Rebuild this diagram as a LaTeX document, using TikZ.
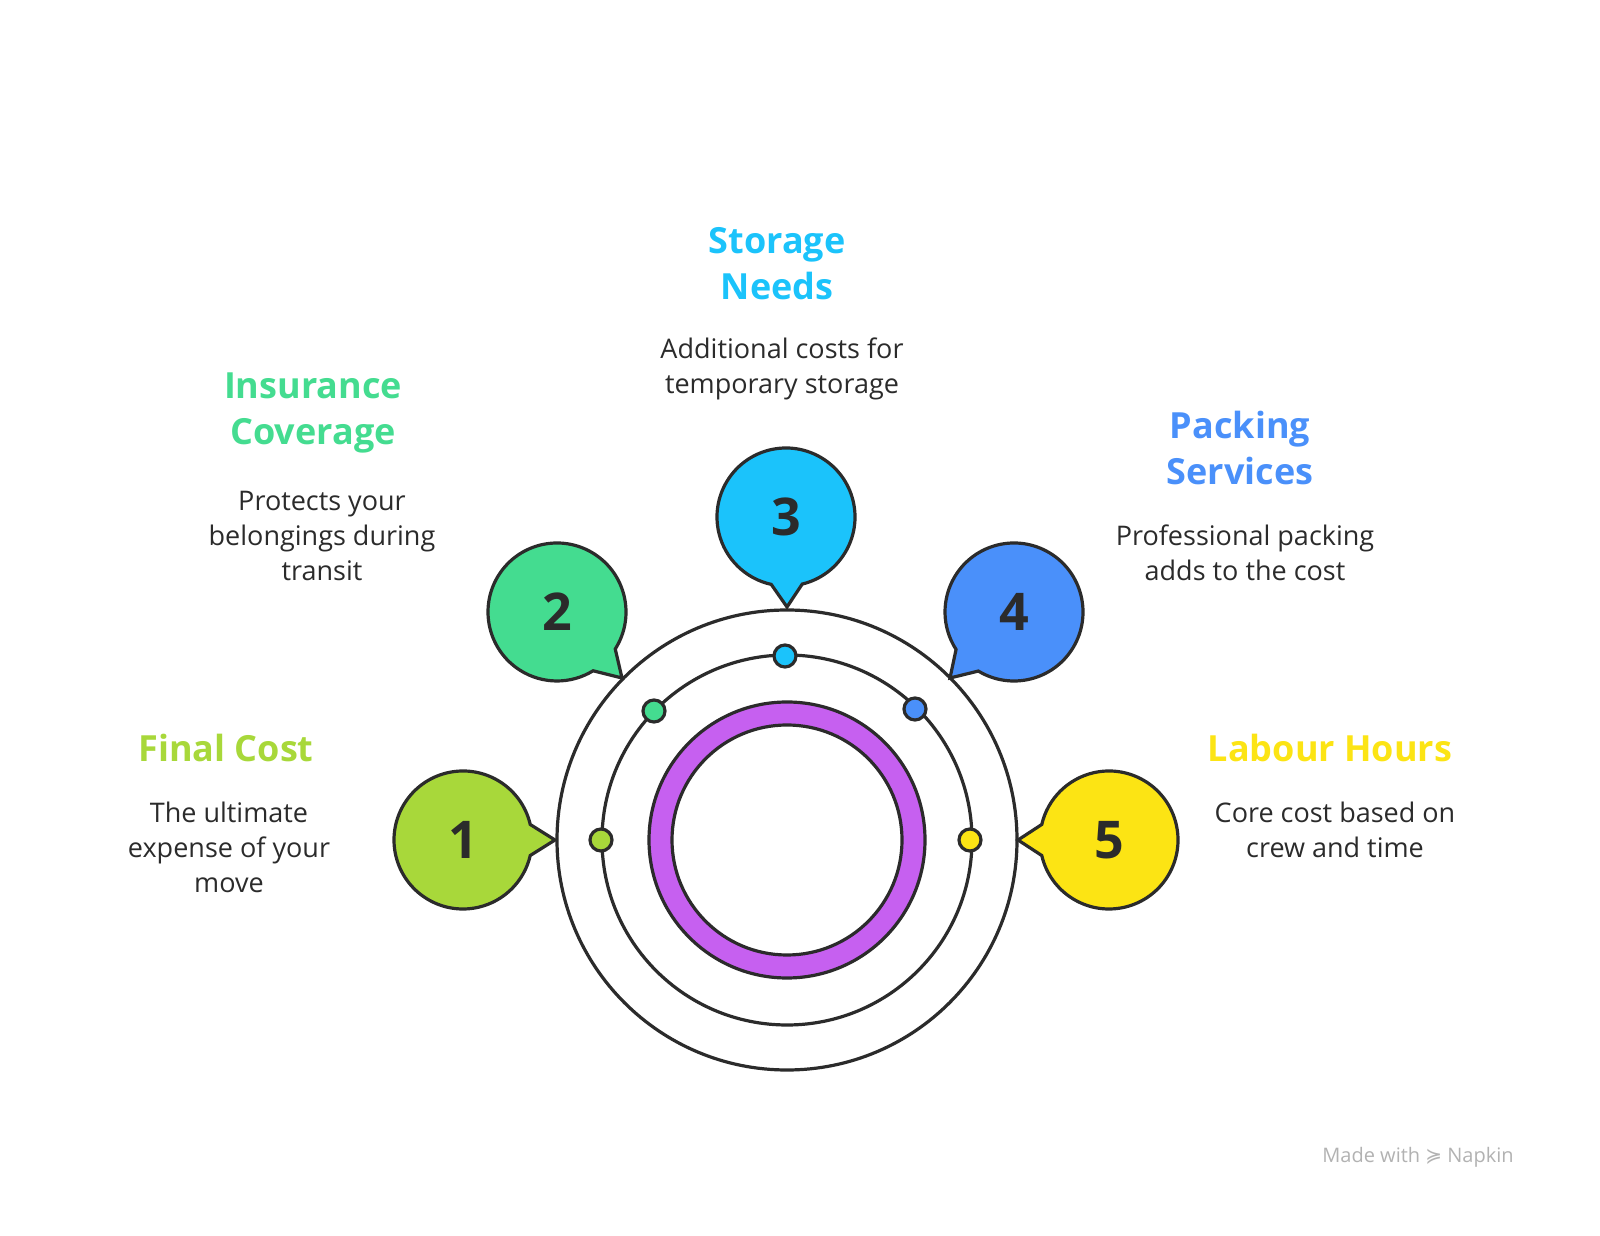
\documentclass[tikz,border=0pt]{standalone}
\usepackage{fontspec}
\setmainfont{Open Sans}
\newfontfamily\symfont{DejaVu Sans}
\usetikzlibrary{calc}
\definecolor{cOne}{HTML}{A8D83A}
\definecolor{cTwo}{HTML}{44DC90}
\definecolor{cThree}{HTML}{1BC3FB}
\definecolor{cFour}{HTML}{4A90FA}
\definecolor{cFive}{HTML}{FCE414}
\definecolor{cRing}{HTML}{C660F0}
\definecolor{ink}{HTML}{2B2B2B}
\tikzset{
  line/.style={draw=ink, line width=1.6pt},
  title/.style={font=\fontsize{18}{23}\selectfont\bfseries, align=center},
  desc/.style={font=\fontsize{13.5}{17.5}\selectfont, text=ink, align=center},
  dot/.style={circle, line, minimum size=11pt, inner sep=0pt},
}
\begin{document}
\begin{tikzpicture}[x=0.5pt, y=0.5pt]
        \useasboundingbox (0,0) rectangle (1600,1236);

        % rings
        \coordinate (c) at (787,396);
        \draw[line, fill=white] (c) circle[radius=230];
        \draw[line] (c) circle[radius=185];
        \draw[line, fill=cRing, even odd rule] (c) circle[radius=138] (c) circle[radius=115];

        % dots on middle ring
        \node[dot, fill=cOne] (d1) at (601,396) {};
        \node[dot, fill=cTwo] (d2) at (654,525) {};
        \node[dot, fill=cThree] (d3) at (785,580) {};
        \node[dot, fill=cFour] (d4) at (915,527) {};
        \node[dot, fill=cFive] (d5) at (970,396) {};

        % bubbles
        \foreach \k/\bx/\by/\tx/\ty/\col in {1/463/396/555/396/cOne, 2/557/624/622/558/cTwo,
            3/786/719/787/629/cThree, 4/1014/624/950/558/cFour, 5/1109/396/1018/396/cFive}
        {
          \coordinate (b\k) at (\bx,\by);
          \coordinate (t\k) at (\tx,\ty);
          \draw[line, fill=\col] let \p1=($(t\k)-(b\k)$), \n1={atan2(\y1,\x1)} in
            (b\k) ++(\n1+13:69) arc[start angle=\n1+13, end angle=\n1+347, radius=69] -- (t\k) -- cycle;
          \node[font=\fontsize{26}{30}\selectfont\bfseries, text=ink] (n\k) at (b\k) {\k};
        }

        % labels
        \node[title, text=cOne] (h1) at (226,488) {Final Cost};
        \node[desc] (p1) at (229,389) {The ultimate\\expense of your\\move};
        \node[title, text=cTwo] (h2) at (313,823) {Insurance\\Coverage};
        \node[desc] (p2) at (322,700) {Protects your\\belongings during\\transit};
        \node[title, text=cThree] (h3) at (777,972) {Storage\\Needs};
        \node[desc] (p3) at (782,867) {Additional costs for\\temporary storage};
        \node[title, text=cFour] (h4) at (1240,788) {Packing\\Services};
        \node[desc] (p4) at (1245,683) {Professional packing\\adds to the cost};
        \node[title, text=cFive] (h5) at (1330,488) {Labour Hours};
        \node[desc] (p5) at (1335,406) {Core cost based on\\crew and time};

        \node[font=\fontsize{10}{12}\selectfont, text=black!30] (mark) at (1418,79) {Made with {\symfont ≽} Napkin};
\end{tikzpicture}
\end{document}
